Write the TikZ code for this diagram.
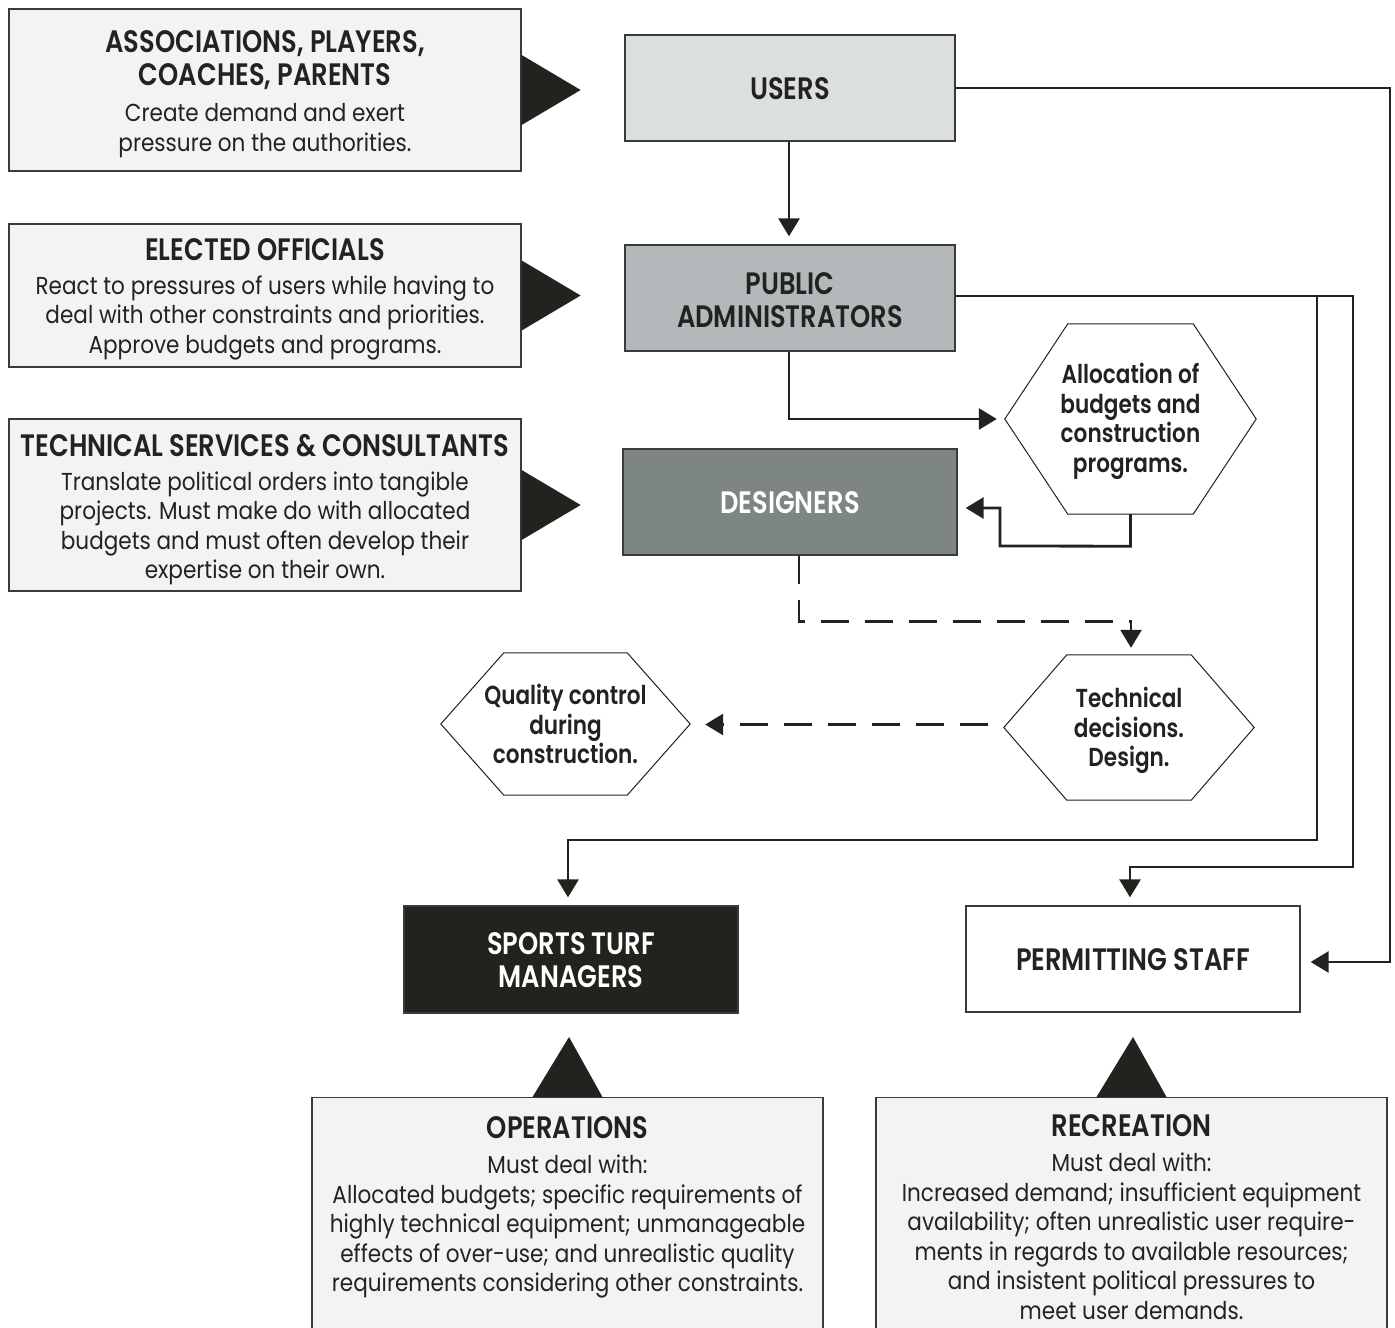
\documentclass[tikz,border=0pt]{standalone}
\usepackage{fontspec}
\setmainfont{Poppins}[FakeStretch=0.88]
\newfontfamily\headfont{Poppins}[FakeStretch=0.83, BoldFont={* SemiBold}]
\newfontfamily\hexfam{Poppins}[FakeStretch=0.83, BoldFont={* SemiBold}]
\usetikzlibrary{arrows.meta}
\definecolor{dk}{HTML}{22231E}
\definecolor{bord}{HTML}{3A3B38}
\definecolor{pale}{HTML}{F2F3F3}
\definecolor{usr}{HTML}{DCDFE0}
\definecolor{adm}{HTML}{B3B8BA}
\definecolor{dsg}{HTML}{7E8684}
\newcommand\hd{\headfont\bfseries\fontsize{31}{33}\selectfont}
\newcommand\bd{\fontsize{24.5}{29.5}\selectfont}
\newcommand\hx{\hexfam\bfseries\fontsize{26}{29.5}\selectfont}
\newcommand\hexdraw[1]{\draw[hexline] (#1.west) -- ([xshift=63pt]#1.north west) -- ([xshift=-63pt]#1.north east) -- (#1.east) -- ([xshift=-63pt]#1.south east) -- ([xshift=63pt]#1.south west) -- cycle;}
\tikzset{
  sidebox/.style={draw=bord, line width=1.3pt, fill=pale, minimum width=512pt, inner sep=0pt, align=center, font=\bd, text=dk},
  rolebox/.style={draw=bord, line width=1.3pt, minimum width=330pt, minimum height=106pt, inner sep=0pt, align=center, font=\hd, text=dk},
  notebox/.style={draw=bord, line width=1.3pt, fill=pale, minimum width=511pt, inner xsep=0pt, inner ysep=19pt, align=center, font=\bd, text=dk, anchor=north},
  hexnode/.style={minimum width=251pt, inner sep=0pt, align=center, font=\hx, text=dk},
  hexline/.style={draw=dk, line width=1pt},
  tri/.style={fill=dk, draw=none},
  conn/.style={draw=dk, line width=2.8pt, -{Triangle[length=18pt,width=21pt]}, shorten >=8pt},
  dconn/.style={conn, dash pattern=on 28pt off 16pt}
}
\begin{document}
\begin{tikzpicture}[x=1pt,y=-1pt]
\useasboundingbox (0,0) rectangle (1395,1328);
\fill[white] (0,0) rectangle (1395,1328);
% left description boxes
\node[sidebox, minimum height=162pt] (a1) at (265,90)
  {{\hd\rule{0pt}{30pt}ASSOCIATIONS, PLAYERS,}\\[3.5pt]{\hd COACHES, PARENTS}\\[6.5pt]Create demand and exert\\pressure on the authorities.};
\node[sidebox, minimum height=143pt] (a2) at (265,295.5)
  {{\hd\rule{0pt}{29pt}ELECTED OFFICIALS}\\[4.5pt]React to pressures of users while having to\\deal with other constraints and priorities.\\Approve budgets and programs.};
\node[sidebox, minimum height=172pt] (a3) at (265,505)
  {{\hd\rule{0pt}{31pt}TECHNICAL SERVICES \& CONSULTANTS}\\[4.5pt]Translate political orders into tangible\\projects. Must make do with allocated\\budgets and must often develop their\\expertise on their own.};
\foreach \b in {a1,a2,a3}
  \fill[tri] ([yshift=35pt]\b.east) -- ([yshift=-35pt]\b.east) -- ([xshift=59pt]\b.east) -- cycle;
% role boxes
\node[rolebox, fill=usr] (users) at (790,88) {\rule{0pt}{24pt}USERS};
\node[rolebox, fill=adm] (pa) at (790,298) {\rule{0pt}{26pt}PUBLIC\\ADMINISTRATORS};
\node[rolebox, fill=dsg, minimum width=334pt, text=white] (des) at (790,502) {\rule{0pt}{24pt}DESIGNERS};
\node[rolebox, fill=dk, minimum width=334pt, minimum height=107pt, text=white] (stm) at (571,959.5) {\rule{0pt}{24pt}SPORTS TURF\\MANAGERS};
\node[rolebox, fill=white, minimum width=334pt] (ps) at (1133,959) {\rule{0pt}{24pt}PERMITTING STAFF};
% hexagons
\node[hexnode, minimum height=190pt] (alloc) at (1130.5,419) {\rule{0pt}{25pt}Allocation of\\budgets and\\construction\\programs.};
\hexdraw{alloc}
\node[hexnode, minimum width=250pt, minimum height=145pt] (tech) at (1129,727.5) {\rule{0pt}{27pt}Technical\\decisions.\\Design.};
\hexdraw{tech}
\node[hexnode, minimum width=249pt, minimum height=142pt] (qual) at (565.5,724) {Quality control\\during\\construction.};
\hexdraw{qual}
% bottom note boxes
\node[notebox] (ops) at (567.5,1097)
  {{\hd OPERATIONS}\\[5.5pt]Must deal with:\\Allocated budgets; specific requirements of\\highly technical equipment; unmanageable\\effects of over-use; and unrealistic quality\\requirements considering other constraints.\\\rule{0pt}{40pt}};
\node[notebox, inner ysep=17pt] (rec) at (1131.5,1097)
  {{\hd RECREATION}\\[5.5pt]Must deal with:\\Increased demand; insufficient equipment\\availability; often unrealistic user require-\\ments in regards to available resources;\\and insistent political pressures to\\meet user demands.\\\rule{0pt}{30pt}};
\foreach \b in {ops,rec}
  \fill[tri] ([xshift=-35pt]\b.north) -- ([xshift=35pt]\b.north) -- ([xshift=1.5pt,yshift=60pt]\b.north) -- cycle;
% connectors
\draw[conn] ([xshift=-1pt]users.south) -- ([xshift=-1pt]pa.north);
\draw[conn] ([xshift=-1pt]pa.south) |- (alloc.west);
\draw[conn] (alloc.south) -- ++(0,32) -- (1000,546) -- (1000,508) -- (des.east |- 0,508);
\draw[conn, shorten >=10pt] (users.east) -| (1390,962) -- (ps.east |- 0,962);
\draw[conn] ([yshift=2pt]pa.east) -| (1353,867) -| ([xshift=-3pt]ps.north);
\coordinate (j) at (1317,296);
\draw[conn] (j) -- (1317,840) -| ([xshift=-3pt]stm.north);
\draw[dconn, shorten >=7pt] ([xshift=9pt]des.south) -- ++(0,66) -| ([xshift=2pt]tech.north);
\draw[dconn, shorten <=16pt, shorten >=15pt] ([yshift=3pt]tech.west) -- ([yshift=3pt]tech.west -| qual.east);
\end{tikzpicture}
\end{document}
